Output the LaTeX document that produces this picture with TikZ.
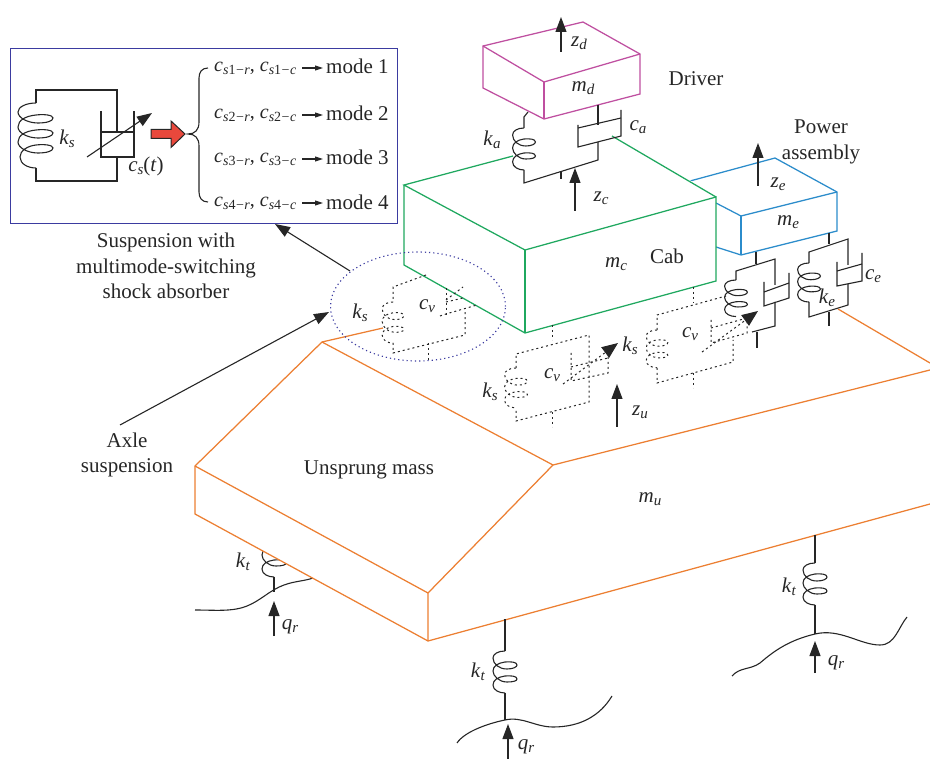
\documentclass[tikz,border=0pt]{standalone}
\usepackage{fontspec}
\setmainfont{Liberation Serif}
\usetikzlibrary{arrows.meta,shapes.geometric}
\definecolor{ink}{HTML}{262626}
\definecolor{org}{HTML}{EC7F32}
\definecolor{grn}{HTML}{1FA85F}
\definecolor{blu}{HTML}{2B8CCB}
\definecolor{mag}{HTML}{BF4FA0}
\definecolor{ibox}{HTML}{3B3BA0}
\definecolor{redarrow}{HTML}{E8483C}
\newcommand\vv[2]{\textit{#1}\raisebox{-.32ex}{\fontsize{15}{15}\selectfont\textit{#2}}}
\newcommand\cc[2]{\textit{c}\raisebox{-.32ex}{\fontsize{14}{14}\selectfont\textit{s}#1\kern.5pt−\kern.5pt\textit{#2}}}
\tikzset{
 rod/.style={draw=ink,line width=1.1pt,line join=miter},
 dots/.style={draw=ink,line width=1pt,dash pattern=on 2pt off 3pt},
 up/.style={draw=ink,line width=1.1pt,-{Triangle[length=15pt,width=11pt]}},
 small/.style={draw=ink,line width=1.1pt,-{Triangle[length=8pt,width=5pt]}},
 oedge/.style={draw=org,line width=1.25pt,line join=miter},
 gedge/.style={draw=grn,line width=1.25pt,line join=miter},
 bedge/.style={draw=blu,line width=1.25pt,line join=miter},
 medge/.style={draw=mag,line width=1.25pt,line join=miter},
 lab/.style={text=ink,inner sep=0pt,font=\fontsize{21}{24.5}\selectfont},
 labr/.style={text=ink,inner sep=0pt,font=\fontsize{20}{24}\selectfont},
 coiltwo/.pic={
  \draw[pic actions] (0,0) .. controls (-7,0) and (-12,3) .. (-12,7) .. controls (-12,13) and (-6,18) .. (2,18)
   .. controls (8,18) and (12,16) .. (12,14) .. controls (12,11) and (6,10.5) .. (0,11)
   .. controls (-7,12) and (-12,15) .. (-12,20) .. controls (-12,25) and (-6,31) .. (2,31)
   .. controls (8,31) and (12,30) .. (12,28) .. controls (12,25) and (6,24.5) .. (0,25)
   .. controls (-7,26) and (-12,29) .. (-12,34) .. controls (-12,39) and (-6,42) .. (0,42);},
 coilthree/.pic={
  \draw[pic actions] (0,0) .. controls (-10,0) and (-18,4) .. (-18,9) .. controls (-18,15) and (-8,20) .. (2,20)
   .. controls (11,20) and (17,18) .. (17,15) .. controls (17,12) and (8,11) .. (0,12)
   .. controls (-10,13) and (-18,17) .. (-18,24) .. controls (-18,30) and (-8,35) .. (2,35)
   .. controls (11,35) and (17,33) .. (17,30) .. controls (17,27) and (8,26) .. (0,27)
   .. controls (-10,28) and (-18,32) .. (-18,39) .. controls (-18,45) and (-8,50) .. (2,50)
   .. controls (11,50) and (17,48) .. (17,45) .. controls (17,42) and (8,41) .. (0,42)
   .. controls (-9,43) and (-16,48) .. (-16,54) .. controls (-16,61) and (-8,65) .. (0,65);}
}
\begin{document}
\begin{tikzpicture}[x=1pt,y=-1pt]
\useasboundingbox (0,0) rectangle (930,759);
% ---------- inset
\node[draw=ibox,line width=1.3pt,minimum width=387pt,minimum height=175pt,inner sep=0pt,anchor=north west] (inset) at (10,48) {};
\draw[rod] (36,103) -- (36,90) -- (117,90) -- (117,132);
\draw[rod] (36,168) -- (36,181) -- (117,181) -- (117,157);
\pic[rod] at (36,103) {coilthree};
\draw[rod] (101,111) -- (101,157) -- (134,157) -- (134,111);
\draw[rod] (101,132) -- (134,132);
\draw[up] (87,157) -- (152,113);
\node[lab] (ksi) at (67,139) {\vv{k}{s}};
\node[lab] (csi) at (146,166) {\vv{c}{s}(\textit{t})};
\draw[draw=ink,line width=1pt,fill=redarrow] (151,129.5) -- (171,129.5) -- (171,121) -- (185,134) -- (171,147.5) -- (171,138.5) -- (151,138.5) -- cycle;
\draw[rod] (208,68) .. controls (202,68) and (199,72) .. (199,78) -- (199,122) .. controls (199,130) and (195,134) .. (188,134) .. controls (195,134) and (199,138) .. (199,146) -- (199,192) .. controls (199,198) and (202,202) .. (208,202);
\foreach \i/\y/\my in {1/68/66,2/115/113,3/159/157,4/203/202}{
 \node[labr,anchor=west] (r\i) at (214,\y) {\cc{\i}{r}, \cc{\i}{c}};
 \node[lab,anchor=west] (m\i) at (326,\my) {mode \i};
 \draw[small] (302,\y) -- (323,\y);
}
\node[lab,align=center,anchor=north] (susp) at (166,233) {Suspension with\\[1pt]multimode-switching\\[1pt]shock absorber};
\node[lab,align=center] (axle) at (127,455) {Axle\\[1pt]suspension};
% ---------- left tyre (behind the mass)
\draw[rod] (274,577) -- (274,592);
\pic[rod] at (274,535) {coiltwo};
\draw[rod] (195,610) .. controls (215,610) and (232,612) .. (247,606) .. controls (260,601) and (270,590) .. (284,585) .. controls (295,581) and (305,581) .. (313,578);
\draw[up] (274,636) -- (274,601);
\node[lab] (kt1) at (243,562) {\vv{k}{t}};
\node[lab] (qr1) at (290,627) {\vv{q}{r}};
% ---------- unsprung mass
\fill[white] (195,466) -- (195,514) -- (428,641) -- (428,593) -- cycle;
\draw[oedge] (322,342) -- (553,465) -- (930,370);
\draw[oedge] (383,328) -- (322,342) -- (195,466) -- (195,514) -- (428,641) -- (930,504);
\draw[oedge] (195,466) -- (428,593) -- (428,641);
\draw[oedge] (428,593) -- (553,465);
\draw[oedge] (838,309) -- (930,363);
\node[lab] (mu) at (650,499) {\vv{m}{u}};
\node[lab] (um) at (369,470) {Unsprung mass};
% ---------- middle and right tyre
\draw[rod] (505,619) -- (505,651) (505,693) -- (505,720);
\pic[rod] at (505,651) {coiltwo};
\draw[rod] (457,743) .. controls (465,731) and (490,723) .. (505,720) .. controls (522,716) and (535,727) .. (553,727) .. controls (580,727) and (600,716) .. (612,696);
\draw[up] (508,759) -- (508,724);
\node[lab] (kt2) at (478,672) {\vv{k}{t}};
\node[lab] (qr2) at (526,747) {\vv{q}{r}};
\draw[rod] (815,535) -- (815,563) (815,605) -- (815,634);
\pic[rod] at (815,563) {coiltwo};
\draw[rod] (732,676) .. controls (740,667) and (750,670) .. (760,663) .. controls (775,650) and (790,640) .. (815,634) .. controls (840,628) and (860,645) .. (880,645) .. controls (895,645) and (898,628) .. (907,617);
\draw[up] (815,673) -- (815,641);
\node[lab] (kt3) at (789,587) {\vv{k}{t}};
\node[lab] (qr3) at (836,663) {\vv{q}{r}};
% ---------- power assembly
\fill[white] (690,181) -- (775,158) -- (837,192) -- (837,231) -- (741,255) -- (716,247) -- (716,197) -- cycle;
\draw[bedge] (690,181) -- (775,158) -- (837,192) -- (837,231) -- (741,255) -- (716,247);
\draw[bedge] (716,203) -- (741,216) -- (837,192);
\draw[bedge] (741,216) -- (741,255);
\draw[up] (758,186) -- (758,143);
\node[lab] (ze) at (778,184) {\vv{z}{e}};
\node[lab] (me) at (788,222) {\vv{m}{e}};
\node[lab,align=center] (pa) at (821,142) {Power\\[1pt]assembly};
% ---------- cab
\fill[white] (404,185) -- (612,130) -- (716,197) -- (716,281) -- (525,333) -- (404,265) -- cycle;
\draw[gedge] (513,156) -- (404,185) -- (525,250) -- (716,197) -- (716,281) -- (525,333) -- (404,265) -- (404,185);
\draw[gedge] (525,250) -- (525,333);
\draw[gedge] (612,136) -- (716,197);
\node[lab] (mc) at (616,264) {\vv{m}{c}};
\node[lab] (cab) at (667,256) {Cab};
% ---------- ellipse and its leaders
\node[draw=ibox,line width=1.1pt,dash pattern=on 1.2pt off 3pt,ellipse,minimum width=175pt,minimum height=109pt,inner sep=0pt] (ell) at (418,306.5) {};
\coordinate (ellA) at (350,271);
\coordinate (insA) at (275,224);
\draw[up] (ellA) -- (insA);
\coordinate (axA) at (120,425);
\coordinate (axB) at (329,312);
\draw[up] (axA) -- (axB);
% ---------- driver mass
\fill[white] (483,46) -- (583,22) -- (640,54) -- (640,94) -- (544,119) -- (483,88) -- cycle;
\draw[medge] (483,46) -- (583,22) -- (640,54) -- (640,94) -- (544,119) -- (483,88) -- cycle;
\draw[medge] (483,46) -- (544,82) -- (640,54);
\draw[medge] (544,82) -- (544,119);
\draw[up] (561,52) -- (561,17);
\node[lab] (zd) at (579,43) {\vv{z}{d}};
\node[lab] (md) at (583,88) {\vv{m}{d}};
\node[lab] (driver) at (696,79) {Driver};
% ---------- cab suspension
\draw[rod] (528,112) -- (524,117) -- (524,128);
\pic[rod,xscale=.95] at (524,128) {coiltwo};
\draw[rod] (524,170) -- (524,183) -- (598,160) -- (598,142);
\draw[rod] (598,105) -- (598,125);
\draw[rod] (578,125) -- (578,147) -- (621,136) -- (621,110);
\draw[rod] (578,128) -- (621,118);
\draw[rod] (561,172) -- (561,179);
\draw[up] (575,211) -- (575,168);
\node[lab] (zc) at (601,198) {\vv{z}{c}};
\node[lab] (ka) at (492,140) {\vv{k}{a}};
\node[lab] (ca) at (638,127) {\vv{c}{a}};
% ---------- power suspension 1
\draw[rod] (756,252) -- (756,264);
\draw[rod] (736,280) -- (736,271) -- (775,259) -- (775,285);
\pic[rod,yscale=.87,xscale=.95] at (736,280) {coiltwo};
\draw[rod] (764,282) -- (764,306) -- (789,298) -- (789,273);
\draw[rod] (764,292) -- (789,283);
\draw[rod] (775,302) -- (775,326) -- (752,332);
\draw[rod] (757,332) -- (757,348);
% ---------- power suspension 2
\draw[rod] (829,233) -- (829,244);
\draw[rod] (809,263) -- (809,252) -- (848,239) -- (848,265);
\pic[rod,yscale=.93,xscale=.95] at (809,263) {coiltwo};
\draw[rod] (809,302) -- (809,317) -- (848,305) -- (848,284);
\draw[rod] (837,262) -- (837,286) -- (862,281) -- (862,253);
\draw[rod] (837,271) -- (862,264);
\draw[rod] (829,312) -- (829,326);
\node[lab] (ke) at (827,298) {\vv{k}{e}};
\node[lab] (ce) at (873,276) {\vv{c}{e}};
% ---------- dotted suspension A (in ellipse)
\draw[dots] (426,275) -- (393,287) -- (393,302);
\pic[dots,yscale=.98,xscale=.9] at (393,302) {coiltwo};
\draw[dots] (393,343) -- (393,353) -- (465,335) -- (465,310);
\draw[dots] (446,288) -- (446,315);
\draw[dots] (446,302) -- (463,298);
\draw[dots] (440,316) -- (446,314) -- (477,305);
\draw[dots] (428,343) -- (428,360);
\draw[dots] (446,300) -- (463,287);
\node[lab] (ksa) at (360,313) {\vv{k}{s}};
\node[lab] (cva) at (427,306) {\vv{c}{v}};
% ---------- dotted suspension B
\draw[dots] (552,325) -- (552,340);
\draw[dots] (516,368) -- (516,354) -- (589,335) -- (589,402) -- (516,421) -- (516,408);
\pic[dots,yscale=.95,xscale=.95] at (516,368) {coiltwo};
\draw[dots] (571,353) -- (571,381) -- (608,373) -- (608,357);
\draw[dots] (571,367) -- (608,358);
\draw[dots] (552,412) -- (552,427);
\draw[dots,-{Triangle[length=16pt,width=13pt]}] (563,384) -- (618,343);
\node[lab] (ksb) at (490,392) {\vv{k}{s}};
\node[lab] (cvb) at (552,375) {\vv{c}{v}};
\node[lab] (ksc) at (630,346) {\vv{k}{s}};
\draw[up] (617,427) -- (617,384);
\node[lab] (zu) at (640,412) {\vv{z}{u}};
% ---------- dotted suspension C
\draw[dots] (693,287) -- (693,303);
\draw[dots] (657,330) -- (657,315) -- (726,296);
\pic[dots,yscale=.9,xscale=.9] at (657,330) {coiltwo};
\draw[dots] (657,368) -- (657,383) -- (733,362) -- (733,340);
\draw[dots] (711,320) -- (711,343) -- (747,333) -- (747,317);
\draw[dots] (711,328) -- (747,318);
\draw[dots] (693,373) -- (693,388);
\draw[dots,-{Triangle[length=16pt,width=13pt]}] (702,352) -- (758,311);
\node[lab] (cvc) at (690,334) {\vv{c}{v}};
\end{tikzpicture}
\end{document}
